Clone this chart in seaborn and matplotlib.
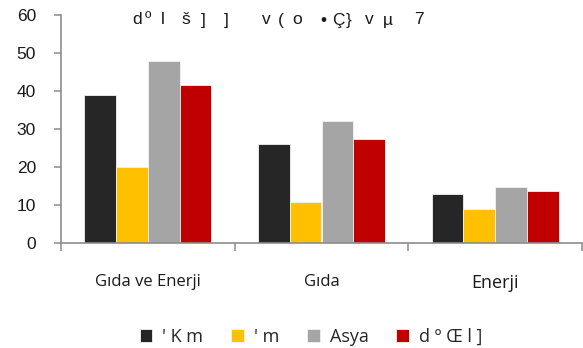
import matplotlib
matplotlib.use("Agg")
import matplotlib.pyplot as plt
import seaborn as sns
import pandas as pd
from matplotlib.ticker import FixedLocator, NullFormatter

# Categories, series and values
categories = ["Gıda ve Enerji", "Gıda", "Enerji"]
series = ["' K m", "' m", "Asya", "d º Œ l ]"]
values_goa = [39, 26, 13]
values_ga = [20, 10.8, 9]
values_asya = [48, 32, 14.8]
values_tr = [41.5, 27.5, 13.8]
colors = ["#262626", "#FFC000", "#A5A5A5", "#C00000"]
yticks = [0, 10, 20, 30, 40, 50, 60]

# Title glyphs with their horizontal positions (pixels)
title_chars = ["d", "º", "l", "š", "]", "]", "v", "(", "o", "•", "Ç", "}", "v", "µ", "7"]
title_x = [132, 145, 161, 181, 201, 224, 262, 278, 292, 320, 332, 346, 365, 383, 414]

rows = []
for s, vals in zip(series, [values_goa, values_ga, values_asya, values_tr]):
    for c, v in zip(categories, vals):
        rows.append({"kategori": c, "seri": s, "deger": v})
df = pd.DataFrame(rows)

sns.set_theme(style="white")
plt.rcParams["font.family"] = ["Liberation Sans", "DejaVu Sans"]

W, H = 583, 348
fig = plt.figure(figsize=(W / 100, H / 100), dpi=100)
ax = fig.add_axes([61 / W, 1 - 243 / H, (582 - 61) / W, (243 - 15) / H])

sns.barplot(data=df, x="kategori", y="deger", hue="seri", order=categories,
            hue_order=series, palette=colors, saturation=1, width=0.73, gap=0,
            edgecolor="#f2f2f2", linewidth=0.6, ax=ax, legend=True)

ax.set_xlim(-0.5, len(categories) - 0.5)
ax.set_ylim(0, 60)
ax.set_yticks(yticks)
ax.set_yticklabels([str(t) for t in yticks], fontsize=12.5, color="#1a1a1a")
ax.set_xlabel("")
ax.set_ylabel("")

axis_color = "#8c8c8c"
for side in ["top", "right"]:
    ax.spines[side].set_visible(False)
for side in ["left", "bottom"]:
    ax.spines[side].set_color(axis_color)
    ax.spines[side].set_linewidth(1.2)

ax.tick_params(axis="y", which="major", left=True, length=5, width=1.1,
               color=axis_color, pad=13, direction="out")
ax.tick_params(axis="x", which="major", bottom=False, length=0, pad=22)
ax.xaxis.set_minor_locator(FixedLocator([-0.5, 0.5, 1.5, 2.5]))
ax.xaxis.set_minor_formatter(NullFormatter())
ax.tick_params(axis="x", which="minor", bottom=True, length=6, width=1.1,
               color=axis_color, direction="out")
for lbl in ax.get_xticklabels():
    lbl.set_fontfamily(["Open Sans", "DejaVu Sans"])
    lbl.set_fontsize(12 if lbl.get_text() != "Enerji" else 13)
    lbl.set_color("#1a1a1a")

# Legend below the plot
handles, labels = ax.get_legend_handles_labels()
ax.get_legend().remove()
fig.legend(handles, labels, loc="center", bbox_to_anchor=(311 / W, 1 - 337 / H),
           ncol=4, frameon=False, handlelength=0.7, handleheight=0.7,
           handletextpad=0.55, columnspacing=1.55,
           prop={"family": ["Open Sans", "DejaVu Sans"], "size": 13})

# Title
for ch, x in zip(title_chars, title_x):
    fig.text(x / W, 1 - 20 / H, ch, ha="left", va="center", fontsize=12.5,
             color="#1a1a1a", family=["Liberation Sans", "DejaVu Sans"])

fig.savefig("out.png", dpi=100)
